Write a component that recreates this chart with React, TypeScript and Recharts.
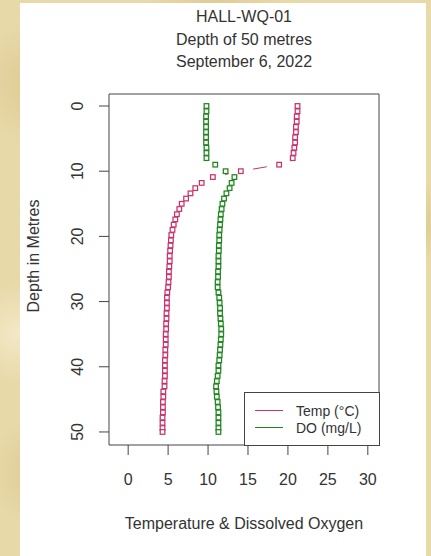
import React from 'react';
import { ScatterChart, Scatter, XAxis, YAxis, ReferenceArea } from 'recharts';

// profile readings (depth in metres)
const depth = [
  0.0, 0.8, 1.6, 2.4, 3.2, 4.0, 4.8, 5.6, 6.4, 7.2, 8.0,
  9.0, 10.0, 10.9, 11.8, 12.6, 13.4, 14.2, 15.0, 15.8, 16.6, 17.4, 18.2, 19.0, 19.8,
  20.6, 21.4, 22.2, 23.0, 23.8, 24.6, 25.4, 26.2, 27.0, 27.8, 28.6, 29.4,
  30.2, 31.0, 31.8, 32.6, 33.4, 34.2, 35.0, 35.8, 36.6, 37.4, 38.2, 39.0, 39.8,
  40.6, 41.4, 42.2, 43.0, 43.8, 44.6, 45.4, 46.2, 47.0, 47.8, 48.6, 49.4, 50.0,
];

const temp = [
  21.2, 21.2, 21.1, 21.1, 21.0, 21.0, 20.9, 20.9, 20.8, 20.7, 20.6,
  18.9, 14.1, 10.6, 9.2, 8.4, 7.8, 7.25, 6.7, 6.4, 6.1, 5.9, 5.7, 5.55, 5.4,
  5.35, 5.3, 5.25, 5.2, 5.2, 5.15, 5.1, 5.1, 5.05, 5.0, 4.9, 4.85,
  4.85, 4.85, 4.8, 4.8, 4.75, 4.75, 4.7, 4.7, 4.7, 4.65, 4.65, 4.6, 4.6,
  4.6, 4.6, 4.55, 4.55, 4.4, 4.4, 4.35, 4.35, 4.35, 4.3, 4.3, 4.3, 4.3,
];

const dissolvedOxygen = [
  9.8, 9.8, 9.75, 9.75, 9.75, 9.75, 9.75, 9.75, 9.8, 9.8, 9.8,
  10.9, 12.2, 13.3, 12.95, 12.7, 12.3, 12.0, 11.8, 11.7, 11.6, 11.55, 11.5, 11.45, 11.4,
  11.4, 11.35, 11.35, 11.3, 11.3, 11.3, 11.25, 11.25, 11.2, 11.2, 11.3, 11.4,
  11.45, 11.5, 11.5, 11.55, 11.6, 11.65, 11.65, 11.6, 11.55, 11.5, 11.45, 11.4, 11.3,
  11.3, 11.2, 11.1, 11.0, 11.05, 11.1, 11.2, 11.25, 11.3, 11.3, 11.3, 11.3, 11.3,
];

const xTicks = [0, 5, 10, 15, 20, 25, 30];
const yTicks = [0, 10, 20, 30, 40, 50];
const titleLines = ['HALL-WQ-01', 'Depth of 50 metres', 'September 6, 2022'];
const seriesNames = ['Temp (°C)', 'DO (mg/L)'];

const TEMP_COLOR = '#C8336B';
const DO_COLOR = '#1F861F';
const INK = '#333';
const FRAME = '#444';
const FONT = '"Liberation Sans", Arial, sans-serif';

const tempData = depth.map((d, i) => ({ x: temp[i], y: d }));
const doData = depth.map((d, i) => ({ x: dissolvedOxygen[i], y: d }));

// open square marker, like R's pch = 0
const makeSquare = (color: string) => (props: any) => {
  const { cx, cy } = props;
  if (cx == null || cy == null) return <g />;
  return <rect x={cx - 2.3} y={cy - 2.3} width={4.6} height={4.6} fill="#fff" stroke={color} strokeWidth={1.25} />;
};

// type = "b" style: segments between points, cut short near each point
const GAP = 12.5;
const GappedLine = (props: any) => {
  const pts = props.points || [];
  const segs = [];
  for (let i = 1; i < pts.length; i++) {
    const a = pts[i - 1];
    const b = pts[i];
    const dx = b.x - a.x;
    const dy = b.y - a.y;
    const len = Math.hypot(dx, dy);
    if (len - 2 * GAP < 3) continue;
    const ux = dx / len;
    const uy = dy / len;
    segs.push(
      <line key={i} x1={a.x + ux * GAP} y1={a.y + uy * GAP} x2={b.x - ux * GAP} y2={b.y - uy * GAP} stroke={props.stroke} strokeWidth={1} />
    );
  }
  return <g>{segs}</g>;
};

// depth labels run parallel to the axis
const DepthTick = ({ x, y, payload }: any) => (
  <text x={x} y={y} transform={`rotate(-90 ${x} ${y})`} textAnchor="middle" fontSize={16} fill={INK} fontFamily={FONT}>
    {payload.value}
  </text>
);

const paper =
  'radial-gradient(circle at 8% 15%, rgba(214,190,128,0.55) 0, rgba(214,190,128,0) 60px),' +
  'radial-gradient(circle at 4% 60%, rgba(245,236,205,0.8) 0, rgba(245,236,205,0) 50px),' +
  'radial-gradient(circle at 10% 85%, rgba(210,186,122,0.5) 0, rgba(210,186,122,0) 55px),' +
  'radial-gradient(circle at 97% 40%, rgba(212,188,126,0.5) 0, rgba(212,188,126,0) 40px),' +
  'radial-gradient(circle at 50% 0%, rgba(214,192,132,0.5) 0, rgba(214,192,132,0) 70px),' +
  '#E8D9A9';

export default function App() {
  const colors = [TEMP_COLOR, DO_COLOR];
  return (
    <div style={{ position: 'absolute', left: 0, top: 0, width: 431, height: 556, background: paper, overflow: 'hidden', fontFamily: FONT, color: INK }}>
      <div style={{ position: 'absolute', left: 20, top: 3, width: 406, height: 553, background: '#fff' }} />

      <div style={{ position: 'absolute', left: 109, top: 5.8, width: 270, textAlign: 'center', fontSize: 16, lineHeight: '22.8px' }}>
        {titleLines.map((t) => (
          <div key={t}>{t}</div>
        ))}
      </div>

      <div style={{ position: 'absolute', left: 0, top: 0 }}>
        <ScatterChart width={431} height={556} margin={{ top: 94, right: 52, bottom: 71, left: 49 }}>
          <XAxis
            type="number"
            dataKey="x"
            domain={[-2.4, 31.4]}
            ticks={xTicks}
            interval={0}
            allowDataOverflow
            axisLine={false}
            tickSize={10}
            tickMargin={19}
            tickLine={{ stroke: FRAME }}
            tick={{ fontSize: 16, fill: INK, fontFamily: FONT }}
            height={40}
          />
          <YAxis
            type="number"
            dataKey="y"
            domain={[-1.84, 52]}
            reversed
            ticks={yTicks}
            interval={0}
            allowDataOverflow
            axisLine={false}
            tickSize={10}
            tickMargin={15.5}
            tickLine={{ stroke: FRAME }}
            tick={(p: any) => <DepthTick {...p} />}
            width={60}
          />
          <ReferenceArea x1={-2.4} x2={31.4} y1={-1.84} y2={52} fill="none" fillOpacity={0} stroke={FRAME} strokeWidth={1} />
          <Scatter
            name={seriesNames[0]}
            data={tempData}
            fill={TEMP_COLOR}
            line={(p: any) => <GappedLine {...p} stroke={TEMP_COLOR} />}
            lineType="joint"
            shape={makeSquare(TEMP_COLOR)}
            isAnimationActive={false}
          />
          <Scatter
            name={seriesNames[1]}
            data={doData}
            fill={DO_COLOR}
            line={(p: any) => <GappedLine {...p} stroke={DO_COLOR} />}
            lineType="joint"
            shape={makeSquare(DO_COLOR)}
            isAnimationActive={false}
          />
        </ScatterChart>
      </div>

      {/* legend box in the lower right corner of the plot */}
      <div style={{ position: 'absolute', left: 244, top: 392, width: 136, height: 54, border: `1px solid ${FRAME}`, boxSizing: 'border-box', background: '#fff' }}>
        {seriesNames.map((name, i) => (
          <React.Fragment key={name}>
            <div style={{ position: 'absolute', left: 10, top: 16.5 + i * 17, width: 28, borderTop: `1.5px solid ${colors[i]}` }} />
            <div style={{ position: 'absolute', left: 51, top: 9.6 + i * 17, fontSize: 14, lineHeight: '17px', whiteSpace: 'nowrap' }}>{name}</div>
          </React.Fragment>
        ))}
      </div>

      <div style={{ position: 'absolute', left: 109, top: 513.5, width: 270, textAlign: 'center', fontSize: 16, lineHeight: '20px' }}>
        Temperature &amp; Dissolved Oxygen
      </div>
      <div style={{ position: 'absolute', left: -66, top: 246, width: 200, height: 20, textAlign: 'center', fontSize: 16, lineHeight: '20px', transform: 'rotate(-90deg)' }}>
        Depth in Metres
      </div>
    </div>
  );
}
